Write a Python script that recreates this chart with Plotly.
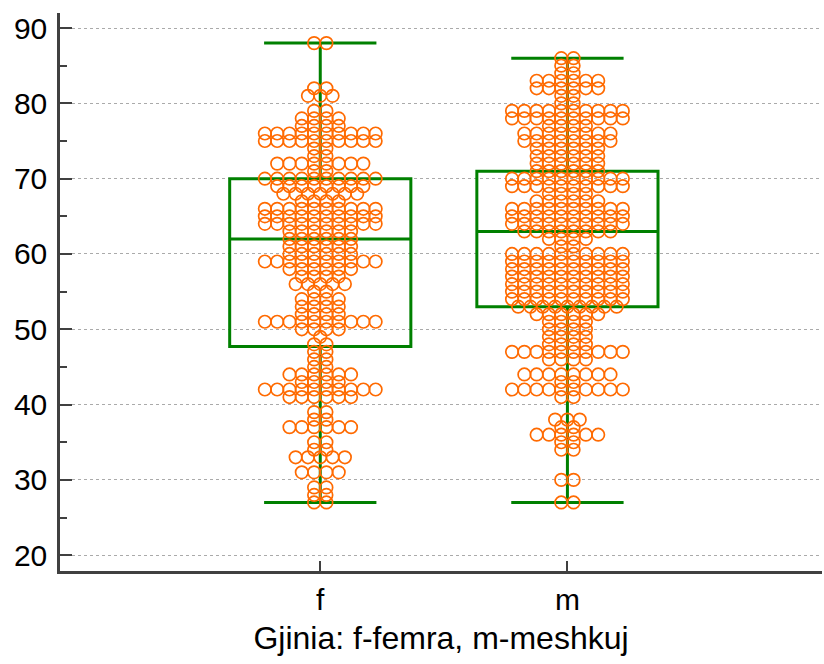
import plotly.graph_objects as go

# ---- data ----
groups = ["f", "m"]

f_values = [88, 82, 81, 79, 78, 77, 76, 75, 74, 73, 72, 71, 70, 69, 68, 67, 66, 65, 64,
            63, 62, 61, 60, 59, 58, 57, 56, 55, 54, 53, 52, 51, 50, 49, 48, 47, 46, 45,
            44, 43, 42, 41, 39, 38, 37, 35, 34, 33, 31, 29, 28, 27]
f_counts = [2, 2, 3, 2, 4, 4, 10, 10, 2, 2, 8, 2, 10, 8, 7, 4, 10, 10, 10,
            6, 6, 6, 6, 10, 6, 4, 5, 2, 4, 4, 4, 10, 4, 1, 2, 2, 2, 2,
            6, 4, 10, 6, 2, 2, 6, 2, 2, 5, 4, 2, 2, 2]

m_values = [86, 85, 84, 83, 82, 81, 80, 79, 78, 77, 76, 75, 74, 73, 72, 71, 70, 69, 68,
            67, 66, 65, 64, 63, 62, 61, 60, 59, 58, 57, 56, 55, 54, 53, 52, 51, 50, 49,
            48, 47, 46, 44, 43, 42, 41, 38, 37, 36, 35, 34, 30, 27]
m_counts = [2, 2, 2, 6, 6, 2, 2, 10, 10, 4, 8, 8, 6, 6, 6, 6, 10, 10, 4,
            6, 10, 10, 10, 8, 4, 2, 10, 10, 10, 10, 10, 10, 10, 9, 6, 4, 4, 4,
            4, 10, 4, 8, 2, 10, 2, 3, 2, 6, 2, 2, 2, 2]

box_lower = [27, 27]
box_q1 = [47.7, 53]
box_median = [62, 63]
box_q3 = [70, 71]
box_upper = [88, 86]

# ---- styling ----
GREEN = "#008000"
ORANGE = "#ff6a00"
AXIS = "#404040"
FONT = "Liberation Sans, Arial, sans-serif"
DOT_STEP = 0.0498  # horizontal spacing of stacked dots, in x-axis units

fig = go.Figure()

fig.add_trace(go.Box(
    x=[0, 1],
    q1=box_q1, median=box_median, q3=box_q3,
    lowerfence=box_lower, upperfence=box_upper,
    width=0.733, whiskerwidth=0.62,
    fillcolor="rgba(0,0,0,0)",
    line=dict(color=GREEN, width=3),
    boxpoints=False, hoverinfo="skip", showlegend=False,
))


def swarm(center, values, counts):
    xs, ys = [], []
    for v, n in zip(values, counts):
        for i in range(n):
            xs.append(center + (i - (n - 1) / 2) * DOT_STEP)
            ys.append(v)
    return xs, ys


for gi, (vals, cnts) in enumerate([(f_values, f_counts), (m_values, m_counts)]):
    xs, ys = swarm(gi, vals, cnts)
    fig.add_trace(go.Scatter(
        x=xs, y=ys, mode="markers",
        marker=dict(symbol="circle-open", size=12.5, color=ORANGE,
                    line=dict(width=1.7, color=ORANGE)),
        showlegend=False, hoverinfo="y",
    ))

fig.update_layout(
    width=824, height=664,
    margin=dict(l=60, r=2, t=13, b=93),
    paper_bgcolor="white", plot_bgcolor="white",
    font=dict(family=FONT, size=30, color="black"),
    showlegend=False,
)

fig.update_xaxes(
    range=[-1.053, 2.03],
    tickvals=[0, 1], ticktext=groups,
    ticks="inside", ticklen=10, tickwidth=2, tickcolor=AXIS,
    showline=True, linecolor=AXIS, linewidth=2.5,
    showgrid=False, zeroline=False,
    tickfont=dict(size=30),
    ticklabelstandoff=0,
    title=dict(text="Gjinia: f-femra, m-meshkuj", font=dict(size=32), standoff=12),
    automargin=False,
)

fig.update_yaxes(
    range=[17.9, 92.0],
    tickvals=[20, 30, 40, 50, 60, 70, 80, 90],
    ticks="inside", ticklen=12, tickwidth=2, tickcolor=AXIS,
    minor=dict(tickvals=[25, 35, 45, 55, 65, 75, 85], ticks="inside", ticklen=7,
               tickwidth=1.5, tickcolor=AXIS, showgrid=False),
    showline=True, linecolor=AXIS, linewidth=2.5,
    showgrid=True, gridcolor="#aaaaaa", griddash="dot", gridwidth=1,
    zeroline=False,
    tickfont=dict(size=30),
    ticklabelstandoff=4,
    automargin=False,
)

fig.write_html(
    "out.html",
    config={"displayModeBar": False},
    post_script="document.body.style.margin='0';document.body.style.padding='0';",
)
